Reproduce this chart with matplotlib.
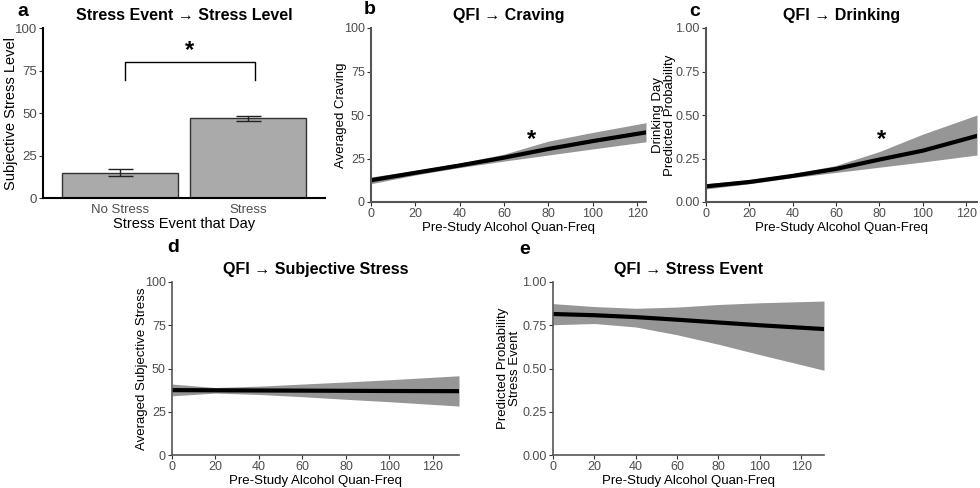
import matplotlib
matplotlib.use("Agg")
import matplotlib.pyplot as plt

plt.rcParams['font.family'] = ['Liberation Sans', 'DejaVu Sans']

# panel a: bar chart
a_categories = ['No Stress', 'Stress']
a_means = [15, 47]
a_err = [2, 1.5]

# panel b: QFI -> craving
b_x = [0, 20, 40, 60, 80, 100, 124]
b_fit = [12.5, 16.8, 21, 25.5, 30.5, 35, 40]
b_low = [10.5, 15.5, 19.8, 23.5, 27, 30.5, 34.6]
b_high = [14.4, 18.1, 22.4, 27.5, 35, 40, 45.6]

# panel c: QFI -> drinking
c_x = [0, 20, 40, 60, 80, 100, 125]
c_fit = [0.09, 0.115, 0.15, 0.19, 0.244, 0.295, 0.38]
c_low = [0.075, 0.105, 0.14, 0.17, 0.20, 0.23, 0.27]
c_high = [0.105, 0.128, 0.163, 0.21, 0.29, 0.39, 0.50]

# panel d: QFI -> subjective stress
d_x = [0, 20, 40, 60, 80, 100, 132]
d_fit = [37.5, 37.4, 37.3, 37.2, 37.1, 37.0, 36.9]
d_low = [34.2, 35.8, 35.0, 33.7, 32.2, 30.8, 28.3]
d_high = [41.0, 39.0, 39.8, 41.0, 42.2, 43.5, 45.8]

# panel e: QFI -> stress event
e_x = [0, 20, 40, 60, 80, 100, 131]
e_fit = [0.815, 0.808, 0.797, 0.782, 0.766, 0.75, 0.728]
e_low = [0.753, 0.76, 0.74, 0.695, 0.64, 0.58, 0.49]
e_high = [0.875, 0.858, 0.848, 0.855, 0.87, 0.88, 0.89]

W, H = 980, 488
fig = plt.figure(figsize=(9.8, 4.88), dpi=100)


def add_ax(l, r, t, b):
    return fig.add_axes([l / W, 1 - b / H, (r - l) / W, (b - t) / H])


def style(ax, col='#333333', lw=1.2, ts=9):
    for s in ['top', 'right']:
        ax.spines[s].set_visible(False)
    for s in ['left', 'bottom']:
        ax.spines[s].set_color(col)
        ax.spines[s].set_linewidth(lw)
    ax.tick_params(colors='#333333', labelcolor='#4d4d4d', labelsize=ts,
                   length=3, width=0.8, pad=1.5)


def ylab_at(ax, text, px_right, size=9.5):
    # put the y label so its right edge sits at a pixel column
    ax.set_ylabel(text, fontsize=size, linespacing=1.0)
    l = ax.get_position().x0 * W
    w = ax.get_position().width * W
    ax.yaxis.set_label_coords((px_right - l) / w, 0.5)


band_col = '#969696'
xlab = 'Pre-Study Alcohol Quan-Freq'
letter_kw = dict(fontsize=14, fontweight='bold', va='center')

# ---- a
ax = add_ax(43, 325, 28, 198)
pos = [1, 2]
ax.bar(pos, a_means, width=0.9, color='#aaaaaa', edgecolor='#333333', linewidth=1.0)
ax.errorbar(pos, a_means, yerr=a_err, fmt='none', ecolor='#222222', elinewidth=1, capsize=9, capthick=1)
ax.set_xlim(0.4, 2.6)
ax.set_ylim(0, 100)
ax.set_yticks([0, 25, 50, 75, 100])
ax.set_xticks(pos)
ax.set_xticklabels(a_categories)
style(ax, col='black', lw=1.5, ts=9.5)
ax.tick_params(axis='x', length=0, pad=4)
ylab_at(ax, 'Subjective Stress Level', 18, size=10.5)
ax.set_xlabel('Stress Event that Day', fontsize=10.5, labelpad=1)
ax.plot([1.04, 1.04, 2.05, 2.05], [69.5, 80, 80, 69.5], color='black', lw=1)
ax.text(1.54, 87, '*', ha='center', va='center', fontsize=17, fontweight='bold')
ax.set_title('Stress Event \u2192 Stress Level', fontsize=11.5, fontweight='bold', pad=6)
fig.text(17 / W, 1 - 12 / H, 'a', **letter_kw)

# ---- b
ax = add_ax(371, 646, 28, 202)
ax.fill_between(b_x, b_low, b_high, color=band_col, lw=0)
ax.plot(b_x, b_fit, color='black', lw=3)
ax.set_xlim(0, 124)
ax.set_ylim(0, 100)
ax.set_yticks([0, 25, 50, 75, 100])
ax.set_xticks([0, 20, 40, 60, 80, 100, 120])
style(ax, col='#555555', lw=1.5)
ylab_at(ax, 'Averaged Craving', 347)
ax.set_xlabel(xlab, fontsize=9.5, labelpad=1)
ax.text(72.5, 36, '*', ha='center', va='center', fontsize=17, fontweight='bold')
ax.set_title('QFI \u2192 Craving', fontsize=11.5, fontweight='bold', pad=6)
fig.text(364 / W, 1 - 10 / H, 'b', **letter_kw)

# ---- c
ax = add_ax(706, 977, 28, 202)
ax.fill_between(c_x, c_low, c_high, color=band_col, lw=0)
ax.plot(c_x, c_fit, color='black', lw=3)
ax.set_xlim(0, 125)
ax.set_ylim(0, 1)
ax.set_yticks([0, 0.25, 0.5, 0.75, 1.0])
ax.set_yticklabels(['0.00', '0.25', '0.50', '0.75', '1.00'])
ax.set_xticks([0, 20, 40, 60, 80, 100, 120])
style(ax, col='#555555', lw=1.5)
ylab_at(ax, 'Drinking Day\nPredicted Probability', 676)
ax.set_xlabel(xlab, fontsize=9.5, labelpad=1)
ax.text(81, 0.36, '*', ha='center', va='center', fontsize=17, fontweight='bold')
ax.set_title('QFI \u2192 Drinking', fontsize=11.5, fontweight='bold', pad=6)
fig.text(689 / W, 1 - 12 / H, 'c', **letter_kw)

# ---- d
ax = add_ax(172, 459, 282, 455)
ax.fill_between(d_x, d_low, d_high, color=band_col, lw=0)
ax.plot(d_x, d_fit, color='black', lw=3)
ax.set_xlim(0, 132)
ax.set_ylim(0, 100)
ax.set_yticks([0, 25, 50, 75, 100])
ax.set_xticks([0, 20, 40, 60, 80, 100, 120])
style(ax, col='#555555', lw=1.2)
ylab_at(ax, 'Averaged Subjective Stress', 148)
ax.set_xlabel(xlab, fontsize=9.5, labelpad=1)
ax.set_title('QFI \u2192 Subjective Stress', fontsize=11.5, fontweight='bold', pad=6)
fig.text(167 / W, 1 - 248 / H, 'd', **letter_kw)

# ---- e
ax = add_ax(553, 824, 282, 455)
ax.fill_between(e_x, e_low, e_high, color=band_col, lw=0)
ax.plot(e_x, e_fit, color='black', lw=3)
ax.set_xlim(0, 131)
ax.set_ylim(0, 1)
ax.set_yticks([0, 0.25, 0.5, 0.75, 1.0])
ax.set_yticklabels(['0.00', '0.25', '0.50', '0.75', '1.00'])
ax.set_xticks([0, 20, 40, 60, 80, 100, 120])
style(ax, col='#555555', lw=1.2)
ylab_at(ax, 'Predicted Probability\nStress Event', 521)
ax.set_xlabel(xlab, fontsize=9.5, labelpad=1)
ax.set_title('QFI \u2192 Stress Event', fontsize=11.5, fontweight='bold', pad=6)
fig.text(519 / W, 1 - 249 / H, 'e', **letter_kw)

fig.savefig('out.png', dpi=100, facecolor='white')
